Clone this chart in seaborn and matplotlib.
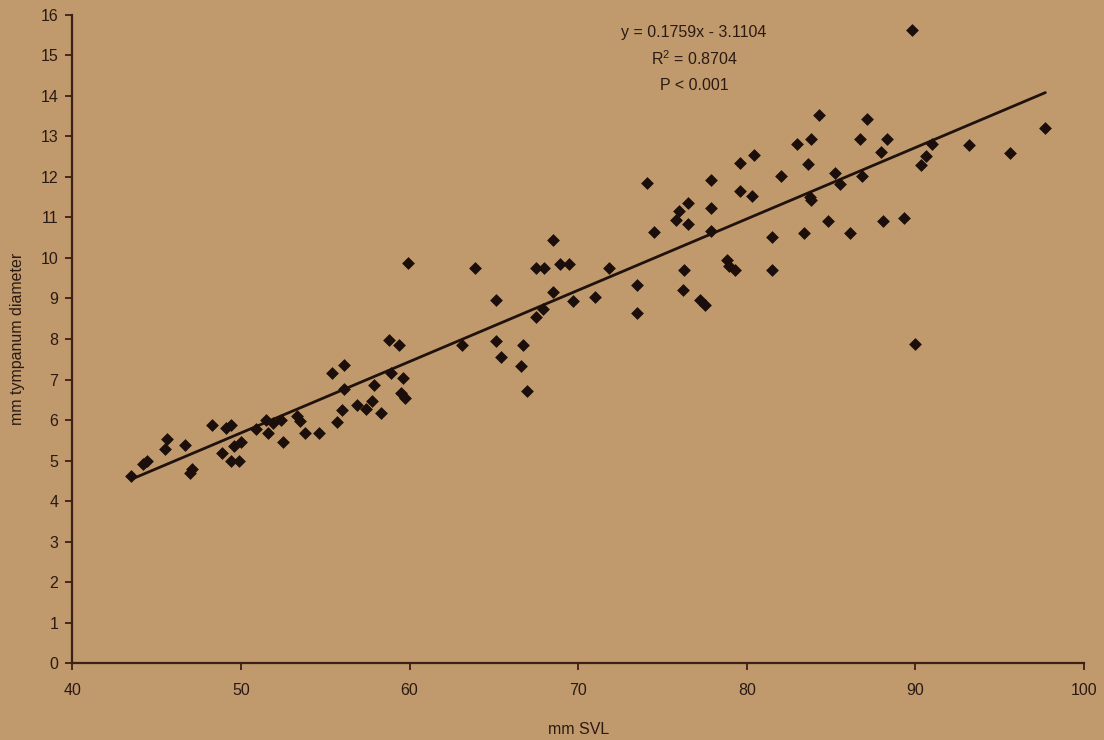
import matplotlib
matplotlib.use("Agg")
import matplotlib.pyplot as plt
import seaborn as sns
import numpy as np
import pandas as pd

# ---- data ----
svl = [
    43.5, 44.2, 44.4, 45.6, 45.5, 46.7, 47.1, 47.0, 48.3, 49.1, 49.4, 48.9, 49.6, 50.0,
    49.4, 49.9, 50.9, 51.5, 51.9, 52.4, 51.6, 52.5, 53.3, 53.5, 53.8, 54.6,
    55.4, 56.1, 56.1, 58.9, 59.6, 57.9, 59.5, 59.7, 56.9, 57.4, 57.8, 56.0, 58.3, 55.7,
    58.8, 59.4, 59.9,
    63.1, 63.9, 65.1, 65.1, 65.4, 66.7, 66.6, 66.96, 67.5, 67.95, 68.9, 69.45, 68.5, 68.5,
    69.7, 67.9, 67.5,
    71.0, 71.8, 73.5, 73.5, 74.1, 74.5, 76.0, 75.8, 76.5, 76.5, 76.3, 76.2, 77.2, 77.5,
    77.9, 77.9, 77.9, 78.8, 78.95, 79.3, 79.6, 80.4, 79.6, 80.3, 81.5, 81.5, 82.0, 83.4,
    83.6, 84.8, 85.2,
    89.8, 84.3, 87.1, 83.0, 83.8, 86.7, 88.3, 87.95, 91.0, 93.2, 95.6, 97.7, 90.6, 90.3,
    86.8, 85.5, 83.75, 83.8, 86.1, 88.05, 89.3, 90.0,
]
tympanum = [
    4.61, 4.92, 5.00, 5.53, 5.30, 5.38, 4.79, 4.69, 5.88, 5.80, 5.88, 5.19, 5.37, 5.47,
    4.98, 4.98, 5.78, 6.00, 5.94, 6.00, 5.68, 5.47, 6.09, 5.98, 5.68, 5.68,
    7.15, 7.36, 6.77, 7.15, 7.05, 6.86, 6.68, 6.55, 6.38, 6.27, 6.47, 6.26, 6.17, 5.96,
    7.97, 7.85, 9.88,
    7.85, 9.75, 8.96, 7.96, 7.55, 7.84, 7.33, 6.72, 9.75, 9.75, 9.85, 9.84, 10.44, 9.15,
    8.94, 8.74, 8.54,
    9.03, 9.75, 9.32, 8.64, 11.85, 10.65, 11.16, 10.93, 11.35, 10.83, 9.71, 9.22, 8.95, 8.83,
    11.93, 11.23, 10.66, 9.94, 9.81, 9.71, 12.34, 12.54, 11.64, 11.52, 10.51, 9.71, 12.01, 10.62,
    12.32, 10.90, 12.10,
    15.63, 13.53, 13.42, 12.81, 12.92, 12.92, 12.92, 12.61, 12.81, 12.79, 12.58, 13.19, 12.51, 12.30,
    12.01, 11.81, 11.50, 11.42, 10.61, 10.91, 10.99, 7.88,
]
slope = 0.1759
intercept = -3.1104
annot_lines = ["y = 0.1759x - 3.1104", "R$^2$ = 0.8704", "P < 0.001"]
x_ticks = [40, 50, 60, 70, 80, 90, 100]
y_ticks = list(range(0, 17))

df = pd.DataFrame({"mm SVL": svl, "mm tympanum diameter": tympanum})
xs = np.array([min(svl), max(svl)])
fit = pd.DataFrame({"x": xs, "y": slope * xs + intercept})

# ---- style ----
bg = "#c09a6d"
ink = "#2b1a12"
axis_c = "#3b2016"
sns.set_theme(style="ticks")
plt.rcParams["font.family"] = ["Liberation Sans", "DejaVu Sans"]
plt.rcParams["text.color"] = ink
plt.rcParams["axes.labelcolor"] = ink
plt.rcParams["xtick.color"] = axis_c
plt.rcParams["ytick.color"] = axis_c
plt.rcParams["xtick.labelcolor"] = ink
plt.rcParams["ytick.labelcolor"] = ink
plt.rcParams["mathtext.fontset"] = "custom"
plt.rcParams["mathtext.rm"] = "Liberation Sans"

fig = plt.figure(figsize=(11.04, 7.4), dpi=100, facecolor=bg)
ax = fig.add_axes([0.0655, 0.1034, 0.9165, 0.8770])
ax.set_facecolor(bg)

sns.scatterplot(data=df, x="mm SVL", y="mm tympanum diameter", marker="D",
                s=36, color="#1c0f0b", edgecolor="#1c0f0b", linewidth=0.5, ax=ax, zorder=3)
sns.lineplot(data=fit, x="x", y="y", color="#1f120d", linewidth=2.0, ax=ax, zorder=2)

ax.set_xlim(40, 100)
ax.set_ylim(0, 16)
ax.set_xticks(x_ticks)
ax.set_yticks(y_ticks)
ax.tick_params(axis="both", labelsize=11.5, width=1.3, length=5, direction="out")
ax.tick_params(axis="x", pad=9)
ax.tick_params(axis="y", pad=5)
ax.set_xlabel("mm SVL", fontsize=11.5, labelpad=17)
ax.set_ylabel("mm tympanum diameter", fontsize=11.5, labelpad=11)

for side in ["top", "right"]:
    ax.spines[side].set_visible(False)
for side in ["left", "bottom"]:
    ax.spines[side].set_color(axis_c)
    ax.spines[side].set_linewidth(1.6)

for yy, line in zip([0.9715, 0.9314, 0.8899], annot_lines):
    ax.text(0.6146, yy, line, transform=ax.transAxes, ha="center", va="center",
            fontsize=11.5, color=ink)

fig.savefig("out.png", dpi=100, facecolor=bg)
